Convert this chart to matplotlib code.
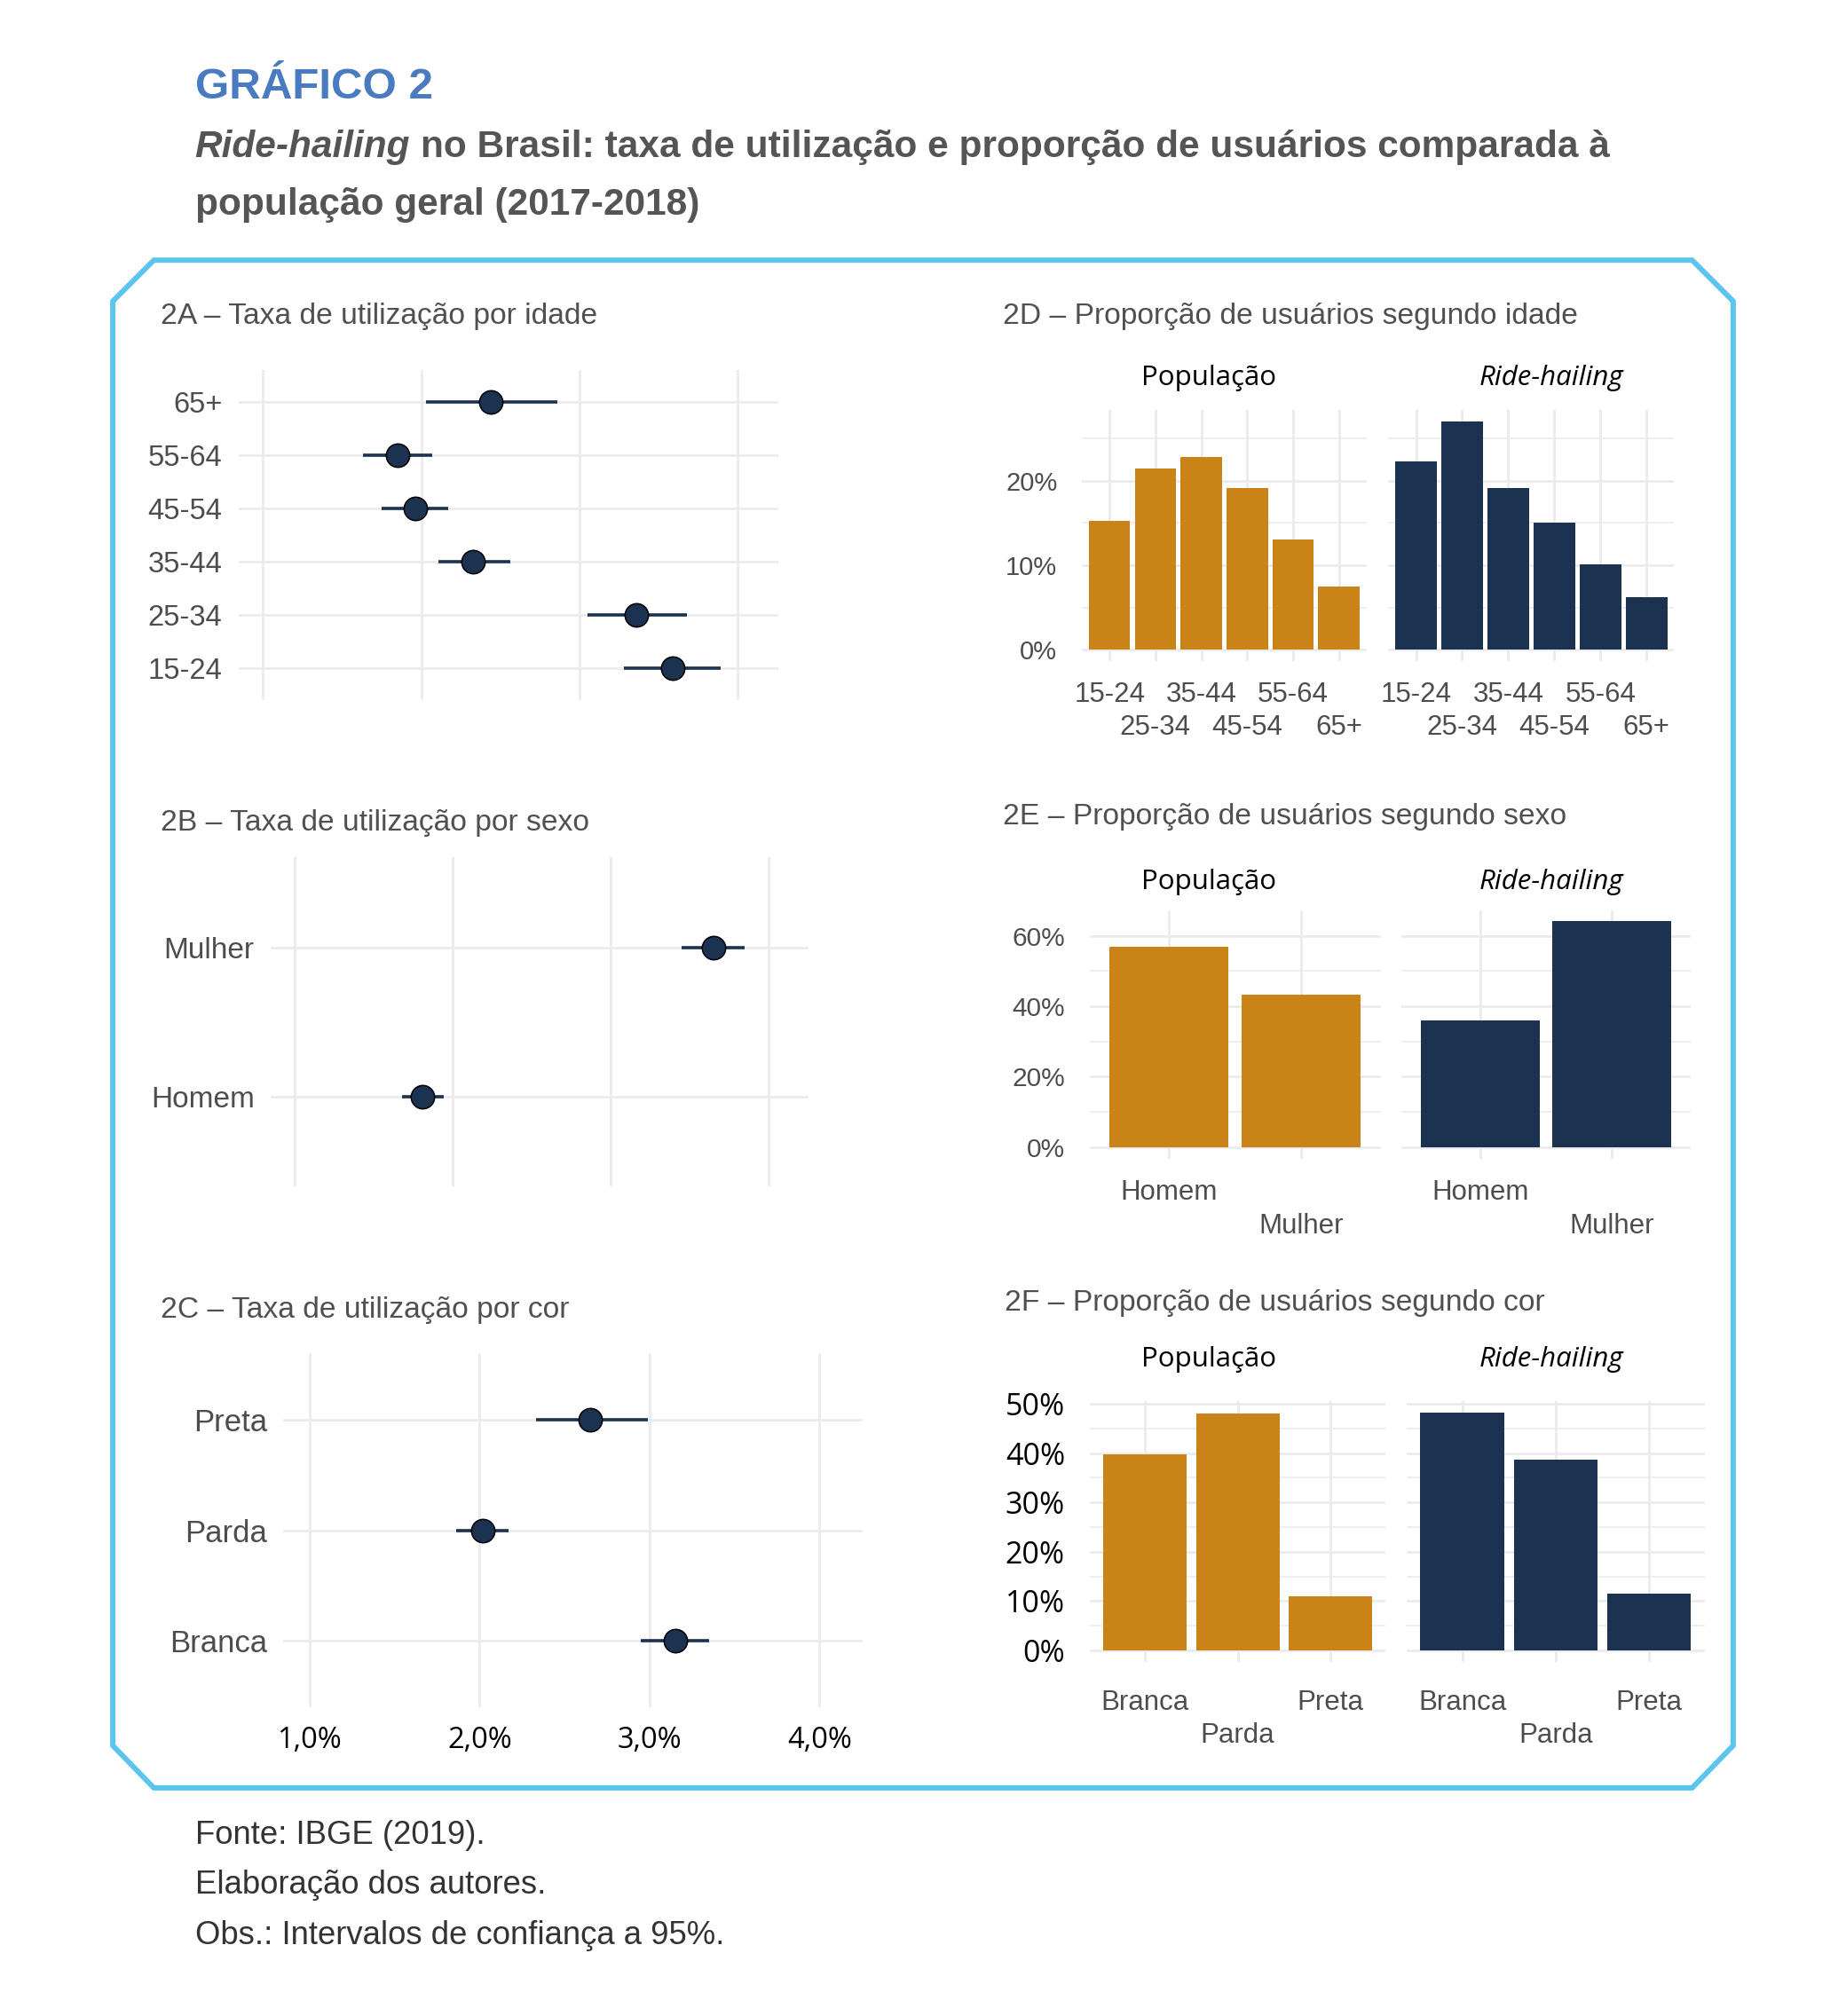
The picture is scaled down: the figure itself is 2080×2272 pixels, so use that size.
import matplotlib
matplotlib.use('Agg')
import matplotlib.pyplot as plt
from matplotlib import font_manager as fm
from matplotlib.patches import Polygon

# reference layout is measured on a 1440 x 1573 grid, drawn on 2080 x 2272 px
W, H = 1440, 1573

# ---- data ----
age_cats = ['15-24', '25-34', '35-44', '45-54', '55-64', '65+']
age_rate = [3.59, 3.36, 2.33, 1.96, 1.85, 2.44]
age_lo = [3.28, 3.05, 2.11, 1.75, 1.63, 2.03]
age_hi = [3.89, 3.68, 2.56, 2.17, 2.07, 2.86]

sex_cats = ['Homem', 'Mulher']
sex_rate = [1.81, 3.65]
sex_lo = [1.68, 3.45]
sex_hi = [1.94, 3.85]

cor_cats = ['Branca', 'Parda', 'Preta']
cor_rate = [3.15, 2.02, 2.65]
cor_lo = [2.95, 1.86, 2.33]
cor_hi = [3.35, 2.17, 2.99]

rate_ticks = [1, 2, 3, 4]
rate_ticklabels = ['1,0%', '2,0%', '3,0%', '4,0%']

age_pop = [15.3, 21.4, 22.8, 19.1, 13.1, 7.5]
age_rh = [22.3, 27.0, 19.1, 15.0, 10.1, 6.2]
sex_pop = [56.8, 43.2]
sex_rh = [35.9, 64.1]
cor_pop = [39.8, 48.0, 10.9]
cor_rh = [48.2, 38.7, 11.5]

ORANGE = '#C98316'
NAVY = '#1B3250'
GRID = '#EBEBEB'
FRAME = '#5BC4EF'
LABEL = '#4D4D4D'

names = {f.name for f in fm.fontManager.ttflist}
NARROW = 'Liberation Sans Narrow' if 'Liberation Sans Narrow' in names else None
plt.rcParams['font.family'] = ['Liberation Sans', 'DejaVu Sans']


def rect(x0, y0, x1, y1):
    return [x0 / W, 1 - y1 / H, (x1 - x0) / W, (y1 - y0) / H]


def ftext(fig, x, y, s, size, narrow=False, **kw):
    if narrow:
        if NARROW:
            kw['family'] = NARROW
        else:
            size = size * 0.93
    return fig.text(x / W, 1 - y / H, s, fontsize=size, **kw)


def dot_panel(ax, cats, rate, lo, hi, lsize, xlabels=False):
    y = list(range(1, len(cats) + 1))
    xerr = [[r - l for r, l in zip(rate, lo)], [h - r for r, h in zip(rate, hi)]]
    ax.errorbar(rate, y, xerr=xerr, fmt='o', color=NAVY, ecolor=NAVY,
                elinewidth=2.6, ms=19, mfc=NAVY, mec='black', mew=1.1,
                capsize=0, zorder=3)
    ax.set_xlim(0.845, 4.255)
    ax.set_ylim(0.4, len(cats) + 0.6)
    ax.set_yticks(y)
    ax.set_yticklabels(cats, fontsize=lsize, color=LABEL)
    ax.set_xticks(rate_ticks)
    if xlabels:
        ax.set_xticklabels(rate_ticklabels, fontsize=23.5, color='black',
                           family='Open Sans')
    else:
        ax.set_xticklabels([])
    ax.tick_params(length=0, pad=13)
    ax.tick_params(axis='x', pad=15)
    ax.grid(True, color=GRID, lw=2.0)
    ax.set_axisbelow(True)
    for s in ax.spines.values():
        s.set_visible(False)


def bar_panel(ax, cats, vals, color, ylim, yticks, minor, ylab, yfont,
              xpad, show_y):
    x = list(range(1, len(cats) + 1))
    ax.bar(x, vals, width=0.9, color=color, zorder=2)
    ax.set_xlim(0.4, len(cats) + 0.6)
    ax.set_ylim(*ylim)
    # two rows of category labels: odd ones on the first row, even ones below
    ax.set_xticks(x[0::2])
    ax.set_xticklabels(cats[0::2], fontsize=22.5, color=LABEL)
    ax.set_xticks(x[1::2], minor=True)
    ax.set_xticklabels(cats[1::2], minor=True, fontsize=22.5, color=LABEL)
    ax.set_yticks(yticks)
    ax.set_yticks(minor, minor=True)
    if show_y:
        ax.set_yticklabels(ylab, **yfont)
    else:
        ax.set_yticklabels([])
    ax.tick_params(which='both', length=0)
    ax.tick_params(axis='y', pad=20)
    ax.tick_params(axis='x', which='major', pad=xpad)
    ax.tick_params(axis='x', which='minor', pad=xpad + 27)
    ax.grid(True, which='major', color=GRID, lw=2.0)
    ax.grid(True, which='minor', axis='x', color=GRID, lw=2.0)
    ax.grid(True, which='minor', axis='y', color=GRID, lw=1.2)
    ax.set_axisbelow(True)
    for s in ax.spines.values():
        s.set_visible(False)


def bar_pair(fig, boxes, cats, pop, rh, yticks, minor, yfont, xpad):
    top = max(pop + rh)
    ylim = (-0.05 * top, 1.05 * top)
    ylab = ['%d%%' % t for t in yticks]
    for b, vals, col, show in [(boxes[0], pop, ORANGE, True), (boxes[1], rh, NAVY, False)]:
        ax = fig.add_axes(rect(*b))
        bar_panel(ax, cats, vals, col, ylim, yticks, minor, ylab, yfont, xpad, show)


fig = plt.figure(figsize=(20.8, 22.72), dpi=100)

# header
ftext(fig, 152, 68, 'GRÁFICO 2', 35.5, weight='bold', color='#4A7BC0', va='center')
t1 = ftext(fig, 152, 115, 'Ride-hailing', 32.8, narrow=True, weight='bold',
           style='italic', color='#555555', va='center')
fig.canvas.draw()
bb = t1.get_window_extent(fig.canvas.get_renderer())
x_next = bb.x1 / fig.bbox.width * W + 8
ftext(fig, x_next, 115, 'no Brasil: taxa de utilização e proporção de usuários comparada à',
      32.8, narrow=True, weight='bold', color='#555555', va='center')
ftext(fig, 152, 160, 'população geral (2017-2018)', 32.8, narrow=True, weight='bold',
      color='#555555', va='center')

# frame with cut corners
frame = [(120, 203), (1320, 203), (1352, 235), (1352, 1362), (1320, 1395),
         (120, 1395), (88, 1362), (88, 235)]
fig.add_artist(Polygon([(x / W, 1 - y / H) for x, y in frame], closed=True,
                       fill=False, edgecolor=FRAME, lw=4.3, transform=fig.transFigure))

# panel titles
for x, y, s in [(125, 247, '2A – Taxa de utilização por idade'),
                (125, 642, '2B – Taxa de utilização por sexo'),
                (125, 1022, '2C – Taxa de utilização por cor'),
                (782, 247, '2D – Proporção de usuários segundo idade'),
                (782, 637, '2E – Proporção de usuários segundo sexo'),
                (784, 1017, '2F – Proporção de usuários segundo cor')]:
    ftext(fig, x, y, s, 26, narrow=True, color='#505050', va='center')

# strip labels
for y in [295, 688, 1061]:
    ftext(fig, 943, y, 'População', 22.5, family='Open Sans', color='black',
          ha='center', va='center')
    ftext(fig, 1210, y, 'Ride-hailing', 22.5, family='Open Sans', style='italic',
          color='black', ha='center', va='center')

# left column: usage rates
ax = fig.add_axes(rect(186, 289, 607, 546))
dot_panel(ax, age_cats, age_rate, age_lo, age_hi, 23.5)
ax = fig.add_axes(rect(211, 669, 631, 926))
dot_panel(ax, sex_cats, sex_rate, sex_lo, sex_hi, 24)
ax = fig.add_axes(rect(221, 1056, 673, 1332))
dot_panel(ax, cor_cats, cor_rate, cor_lo, cor_hi, 25, xlabels=True)

# right column: shares
bar_pair(fig, [(844, 320, 1066, 516), (1083, 320, 1306, 516)], age_cats, age_pop, age_rh,
         [0, 10, 20], [5, 15, 25], dict(fontsize=21, color=LABEL), 16)
bar_pair(fig, [(850, 710, 1077, 904), (1093, 710, 1319, 904)], sex_cats, sex_pop, sex_rh,
         [0, 20, 40, 60], [10, 30, 50], dict(fontsize=21.5, color=LABEL), 17)
bar_pair(fig, [(850, 1093, 1081, 1297), (1097, 1093, 1330, 1297)], cor_cats, cor_pop, cor_rh,
         [0, 10, 20, 30, 40, 50], [5, 15, 25, 35, 45],
         dict(fontsize=24.5, color='black', family='Open Sans'), 22)

# footer
for y, s in [(1432, 'Fonte: IBGE (2019).'), (1471, 'Elaboração dos autores.'),
             (1510, 'Obs.: Intervalos de confiança a 95%.')]:
    ftext(fig, 152, y, s, 26.3, color='#333333', va='center')

fig.savefig('out.png', dpi=100, facecolor='white')
